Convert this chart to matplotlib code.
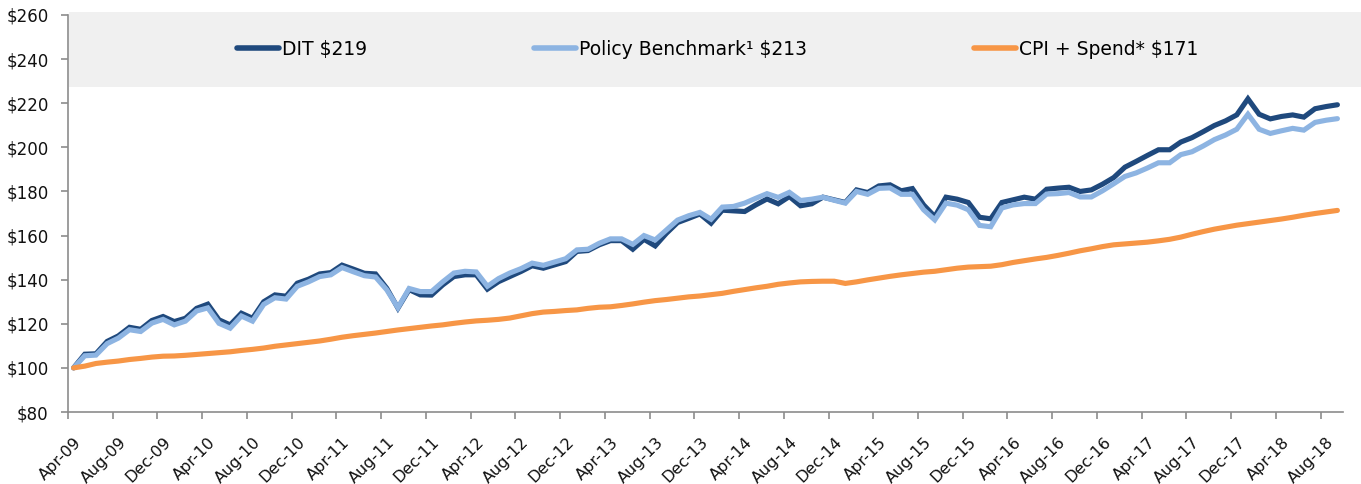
import numpy as np
import pandas as pd
import matplotlib
matplotlib.use("Agg")
import matplotlib.pyplot as plt
from matplotlib.patches import Rectangle

# growth of $100, monthly, Apr-09 .. Sep-18
months = pd.period_range("2009-04", "2018-09", freq="M")

dit = [100, 106.2, 106.4, 112, 114.5, 118.4, 117.5, 121.5, 123.3, 121,
       122.5, 127, 128.9, 121.8, 119.5, 124.8, 122.5, 130, 133.1, 132.5,
       138.4, 140.2, 142.6, 143.2, 146.6, 144.8, 142.9, 142.6, 136.1, 127.1,
       135.5, 133.1, 133, 137.6, 141.4, 142.2, 142.2, 135.7, 139.1, 141.4,
       143.7, 146.3, 145.2, 146.7, 148.2, 152.8, 153.2, 155.8, 157.7, 157.7,
       153.8, 158.3, 155.3, 161, 165.9, 167.8, 169.8, 165.6, 171.5, 171.2,
       170.9, 173.9, 176.6, 174.4, 177.7, 173.5, 174.4, 177.4, 176.2, 175,
       180.7, 179.5, 182.5, 183, 180.3, 181.3, 173.9, 168.6, 177.4, 176.5,
       175, 168.3, 167.6, 175, 176.2, 177.4, 176.5, 181, 181.5, 181.9,
       180, 180.7, 183.3, 186.3, 191, 193.6, 196.3, 198.9, 198.9, 202.4,
       204.4, 207.1, 209.9, 212, 214.7, 222, 215, 212.9, 214, 214.7,
       213.7, 217.5, 218.5, 219.3]

policy = [100, 105.5, 105.8, 111, 113.5, 117.3, 116.5, 120.3, 122, 119.5,
          121.2, 125.8, 127.2, 120.2, 118, 123.5, 121.2, 128.8, 131.8, 131.2,
          137, 139, 141.4, 142.2, 145.5, 143.6, 141.8, 141.2, 135.4, 127.3,
          136, 134.6, 134.6, 139, 143, 143.8, 143.5, 137, 140.5, 143,
          145, 147.5, 146.5, 148, 149.5, 153.5, 153.8, 156.5, 158.5, 158.5,
          156, 160, 158, 162.5, 167, 169, 170.5, 167.4, 172.9, 173.2,
          174.7, 176.9, 179, 177.3, 179.6, 175.9, 176.5, 177.4, 176, 174.7,
          180, 178.7, 181.4, 181.6, 178.7, 178.7, 171.7, 167.1, 174.7, 173.8,
          171.7, 164.6, 164, 172.5, 173.9, 174.5, 174.5, 178.8, 179, 179.5,
          177.5, 177.5, 180.3, 183.5, 186.8, 188.4, 190.6, 193, 193, 196.7,
          198, 200.6, 203.5, 205.6, 208.2, 215, 208.2, 206.3, 207.5, 208.6,
          207.8, 211.3, 212.3, 213]

cpi_spend = [100, 100.8, 102, 102.6, 103.1, 103.8, 104.3, 104.9, 105.3, 105.4,
             105.7, 106.1, 106.5, 106.9, 107.3, 107.9, 108.4, 109, 109.8, 110.4,
             111, 111.6, 112.2, 113, 113.9, 114.6, 115.2, 115.8, 116.5, 117.2,
             117.8, 118.4, 119, 119.5, 120.2, 120.8, 121.3, 121.6, 122, 122.6,
             123.6, 124.6, 125.3, 125.6, 126, 126.3, 127, 127.5, 127.7, 128.3,
             129, 129.8, 130.5, 131, 131.6, 132.2, 132.6, 133.2, 133.8, 134.7,
             135.5, 136.3, 137, 137.9, 138.5, 139, 139.2, 139.3, 139.3, 138.3,
             139, 139.9, 140.7, 141.5, 142.2, 142.8, 143.4, 143.8, 144.5, 145.2,
             145.7, 145.9, 146.1, 146.8, 147.8, 148.6, 149.4, 150.1, 151, 152,
             153.1, 154, 155, 155.8, 156.2, 156.6, 157, 157.6, 158.3, 159.3,
             160.6, 161.8, 162.9, 163.8, 164.7, 165.4, 166.1, 166.8, 167.5, 168.3,
             169.2, 170, 170.7, 171.4]

series_names = ["DIT $219", "Policy Benchmark\u00b9 $213", "CPI + Spend* $171"]
series_colors = ["#1F497D", "#8DB4E2", "#F79646"]
y_ticks = [80, 100, 120, 140, 160, 180, 200, 220, 240, 260]

plt.rcParams["font.family"] = ["DejaVu Sans"]

fig = plt.figure(figsize=(13.61, 4.84), dpi=100)
ax = fig.add_axes([68 / 1361, 72 / 484, 1275 / 1361, 397 / 484])

x = np.arange(len(months))
for vals, name, col in zip([dit, policy, cpi_spend], series_names, series_colors):
    ax.plot(x, vals, color=col, lw=3.7, label=name, solid_joinstyle="miter",
            solid_capstyle="round", zorder=3)

ax.set_xlim(-0.5, len(months) - 0.5)
ax.set_ylim(80, 260)
ax.set_yticks(y_ticks)
ax.set_yticklabels([f"${v}" for v in y_ticks])

# tick marks sit on month boundaries, labels hang a bit to the right
tick_idx = np.arange(0, len(months), 4)
ax.set_xticks(tick_idx - 0.5)
ax.set_xticklabels([])
ax.set_xticks(tick_idx + 0.5, minor=True)
ax.set_xticklabels([months[i].strftime("%b-%y") for i in tick_idx], minor=True,
                   rotation=45, ha="right", va="center", rotation_mode="anchor",
                   fontsize=11.5)
ax.tick_params(axis="x", which="minor", length=0, pad=20)

for side in ["top", "right"]:
    ax.spines[side].set_visible(False)
for side in ["left", "bottom"]:
    ax.spines[side].set_color("#8C8C8C")
    ax.spines[side].set_linewidth(1.2)
ax.tick_params(axis="both", which="major", colors="#8C8C8C", length=5, width=1.2,
               labelcolor="#111111")
ax.tick_params(axis="x", which="minor", labelcolor="#111111")
ax.tick_params(axis="y", labelsize=12, pad=9)

# grey legend band across the top
band = Rectangle((0.001, 0.8186), 1.013, 0.189, transform=ax.transAxes,
                 facecolor="#F0F0F0", edgecolor="none", clip_on=False, zorder=1)
ax.add_patch(band)

leg = ax.legend(loc="center left", bbox_to_anchor=(0.127, 0.913), ncol=3,
                frameon=False, fontsize=13.5, handlelength=2.2, handletextpad=0.2,
                columnspacing=8.9, borderaxespad=0)
for h in leg.get_lines():
    h.set_linewidth(4)

fig.savefig("out.png", dpi=100)
